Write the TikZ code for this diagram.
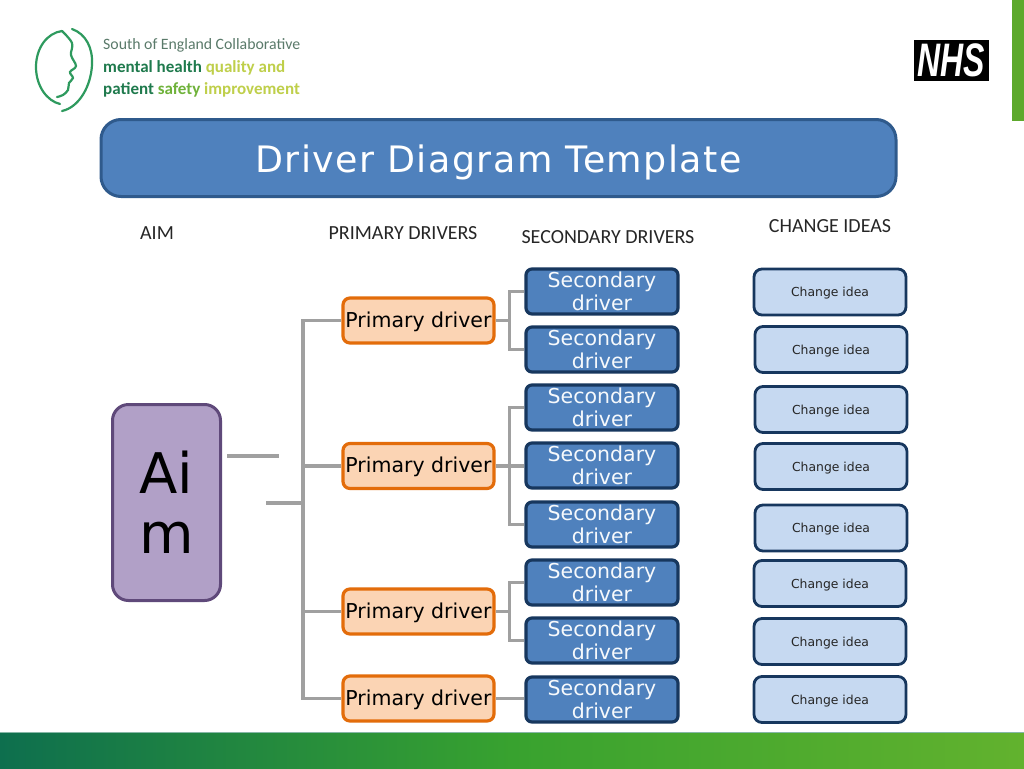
\documentclass[tikz,border=0pt]{standalone}
\usepackage{fontspec}
\usepackage{graphicx}
\setmainfont{DejaVu Sans}
\newfontfamily\carl{Carlito}
\newfontfamily\titlef[LetterSpace=4]{DejaVu Sans}
\newfontfamily\nhsf{Liberation Sans}
\usetikzlibrary{calc}
\definecolor{blueF}{HTML}{4F81BD}
\definecolor{blueD}{HTML}{17375E}
\definecolor{blueT}{HTML}{2F5A8C}
\definecolor{ideaF}{HTML}{C6D9F1}
\definecolor{orF}{HTML}{FBD4B4}
\definecolor{orD}{HTML}{E36C0A}
\definecolor{puF}{HTML}{B1A0C7}
\definecolor{puD}{HTML}{5F497A}
\definecolor{lnk}{HTML}{A0A0A0}
\definecolor{gL}{HTML}{0E6F4E}
\definecolor{gM}{HTML}{38A22F}
\definecolor{gR}{HTML}{62B22E}
\definecolor{logoG}{HTML}{2E9A5E}
\definecolor{logoD}{HTML}{1F7A4D}
\definecolor{logoM}{HTML}{6FB23A}
\definecolor{logoY}{HTML}{BFCF4A}
\definecolor{logoT}{HTML}{5A7A6A}
\newcommand\dnshift[2]{\raisebox{-#1pt}[\height][\depth]{#2}}
\tikzset{
  x=1pt,y=-1pt,
  prim/.style={draw=orD,fill=orF,line width=3.2pt,rounded corners=7pt,minimum width=151pt,minimum height=45pt,inner sep=0pt,font=\fontsize{20.5}{24}\selectfont,text=black},
  sec/.style={draw=blueD,fill=blueF,line width=3.2pt,rounded corners=6pt,minimum width=152pt,minimum height=45pt,inner sep=0pt,align=center,font=\fontsize{20.5}{22.5}\selectfont,text=white!95!blueF},
  idea/.style={draw=blueD,fill=ideaF,line width=2.8pt,rounded corners=8pt,minimum width=152pt,minimum height=46pt,inner sep=0pt,font=\fontsize{12.4}{15}\selectfont,text=black!85},
  head/.style={font=\carl\fontsize{20}{24}\selectfont,text=black!85,inner sep=0pt},
  link/.style={draw=lnk,line width=3.2pt,line join=miter},
  logotext/.style={anchor=west,inner sep=0pt,font=\carl\fontsize{15.8}{20}\selectfont},
  logobold/.style={anchor=west,inner sep=0pt,font=\carl\bfseries\fontsize{17}{20}\selectfont},
  logoline/.style={logoG,line width=2.2pt,line cap=round}
}
\begin{document}
\begin{tikzpicture}
\useasboundingbox (0,0) rectangle (1024,768);
\fill[white] (0,0) rectangle (1024,768);
% side tab and bottom band
\fill[gR!95!black] (1012,0) rectangle (1024,121);
\fill[left color=gL,right color=gR,middle color=gM] (0,732) rectangle (1024,768);
\draw[gL!50!white,line width=1pt] (0,732) -- (1024,732);
% logo
\draw[logoline] (62,31) .. controls (47,33) and (36,48) .. (36,67) .. controls (36,86) and (47,101) .. (60,104);
\draw[logoline] (72,29) .. controls (86,34) and (93,48) .. (92,65) .. controls (91,85) and (80,107) .. (62,111);
\draw[logoline] plot[smooth,tension=0.6] coordinates {(62,31) (72,43) (71,55) (76,66) (70,72) (73,78) (69,83) (68,90) (63,95) (57,97)};
\node[logotext,text=logoT] (l1) at (103,45.5) {South of England Collaborative};
\node[logobold] (l2) at (103,68) {\textcolor{logoD}{mental health}~\textcolor{logoY}{quality and}};
\node[logobold] (l3) at (103,90) {\textcolor{logoD}{patient}~\textcolor{logoM}{safety}~\textcolor{logoY}{improvement}};
% NHS
\node[fill=black,text=white,minimum width=75pt,minimum height=40pt,inner sep=0pt,font=\nhsf\bfseries\itshape\fontsize{47}{47}\selectfont] (nhs) at (951.5,60.5) {\scalebox{.68}[1]{NHS}};
% title
\node[draw=blueT,fill=blueF,line width=3pt,rounded corners=20pt,minimum width=795pt,minimum height=77pt,inner sep=0pt,text=white,font=\titlef\fontsize{36.4}{42}\selectfont] (title) at (498.5,158) {\dnshift{4.5}{Driver Diagram Template}};
% headers
\node[head] (h1) at (157,233) {AIM};
\node[head] (h2) at (403,233) {PRIMARY DRIVERS};
\node[head] (h3) at (608,237.5) {SECONDARY DRIVERS};
\node[head] (h4) at (830,226.5) {CHANGE IDEAS};
% aim
\node[draw=puD,fill=puF,line width=3pt,rounded corners=16pt,minimum width=108pt,minimum height=196pt,inner sep=0pt,align=center,font=\fontsize{56}{60}\selectfont,text=black] (aim) at (166.5,502.5) {Ai\\m};
% nodes
\node[prim] (p1) at (418.5,320.5) {\dnshift{1}{Primary driver}};
\node[prim] (p2) at (418.5,466) {\dnshift{1}{Primary driver}};
\node[prim] (p3) at (418.5,611.5) {\dnshift{1}{Primary driver}};
\node[prim] (p4) at (418.5,698.5) {\dnshift{1}{Primary driver}};
\node[sec] (s1) at (602,291.5) {Secondary\\driver};
\node[sec] (s2) at (602,349.5) {Secondary\\driver};
\node[sec] (s3) at (602,407.5) {Secondary\\driver};
\node[sec] (s4) at (602,465.5) {Secondary\\driver};
\node[sec] (s5) at (602,524.5) {Secondary\\driver};
\node[sec] (s6) at (602,582.5) {Secondary\\driver};
\node[sec] (s7) at (602,640.5) {Secondary\\driver};
\node[sec] (s8) at (602,699.5) {Secondary\\driver};
\node[idea] (c1) at (830,292) {\dnshift{1.5}{Change idea}};
\node[idea] (c2) at (831,349.5) {\dnshift{1.5}{Change idea}};
\node[idea] (c3) at (831,409.5) {\dnshift{1.5}{Change idea}};
\node[idea] (c4) at (831,466.5) {\dnshift{1.5}{Change idea}};
\node[idea] (c5) at (831,528) {\dnshift{1.5}{Change idea}};
\node[idea] (c6) at (830,583.5) {\dnshift{1.5}{Change idea}};
\node[idea] (c7) at (830,641.5) {\dnshift{1.5}{Change idea}};
\node[idea] (c8) at (830,699.5) {\dnshift{1.5}{Change idea}};
% connectors
\coordinate (a1) at (227,456);
\coordinate (a2) at (279,456);
\coordinate (b1) at (266,503);
\coordinate (b2) at (303,503);
\coordinate (t1) at (303,320.5);
\coordinate (t4) at (303,698.5);
\draw[link] (a1) -- (a2);
\draw[link] (b1) -- (b2);
\draw[link] (p1.west) -- (t1) -- (t4) -- (p4.west);
\draw[link] (p2.west) -- (p2.west -| t1);
\draw[link] (p3.west) -- (p3.west -| t1);
\foreach \p/\top/\bot in {p1/s1/s2,p2/s3/s5,p3/s6/s7}{
  \coordinate (m) at ($(\p.east)+(14,0)$);
  \draw[link] (\p.east) -- (m);
  \draw[link] (\top.west) -- (\top.west -| m) -- (\bot.west -| m) -- (\bot.west);
}
\draw[link] (p2.east) -- (p2.east -| s4.west);
\draw[link] (p4.east) -- (p4.east -| s8.west);
\end{tikzpicture}
\end{document}
